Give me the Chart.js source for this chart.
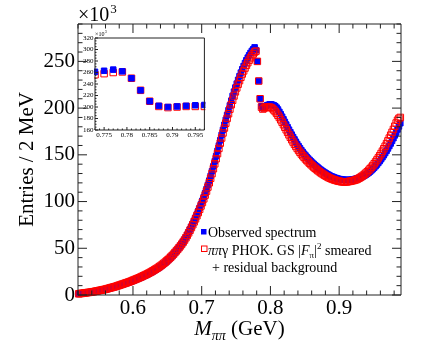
<!DOCTYPE html>
<html>
<head>
<meta charset="utf-8">
<script src="https://cdn.jsdelivr.net/npm/chart.js@4.4.1/dist/chart.umd.min.js"></script>
<style>
  html, body { margin: 0; padding: 0; background: #fff; }
  #wrap { position: relative; width: 436px; height: 347px; }
  #main { position: absolute; left: 0; top: 0; }
  #inset { position: absolute; left: 60px; top: 28px; }
</style>
</head>
<body>
<div id="wrap">
  <canvas id="main" width="436" height="347"></canvas>
  <canvas id="inset" width="150" height="115"></canvas>
</div>
<script>
// bin centres (GeV), 2 MeV bins
const massGeV = [
  0.521, 0.523, 0.525, 0.527, 0.529, 0.531, 0.533, 0.535, 0.537, 0.539,
  0.541, 0.543, 0.545, 0.547, 0.549, 0.551, 0.553, 0.555, 0.557, 0.559,
  0.561, 0.563, 0.565, 0.567, 0.569, 0.571, 0.573, 0.575, 0.577, 0.579,
  0.581, 0.583, 0.585, 0.587, 0.589, 0.591, 0.593, 0.595, 0.597, 0.599,
  0.601, 0.603, 0.605, 0.607, 0.609, 0.611, 0.613, 0.615, 0.617, 0.619,
  0.621, 0.623, 0.625, 0.627, 0.629, 0.631, 0.633, 0.635, 0.637, 0.639,
  0.641, 0.643, 0.645, 0.647, 0.649, 0.651, 0.653, 0.655, 0.657, 0.659,
  0.661, 0.663, 0.665, 0.667, 0.669, 0.671, 0.673, 0.675, 0.677, 0.679,
  0.681, 0.683, 0.685, 0.687, 0.689, 0.691, 0.693, 0.695, 0.697, 0.699,
  0.701, 0.703, 0.705, 0.707, 0.709, 0.711, 0.713, 0.715, 0.717, 0.719,
  0.721, 0.723, 0.725, 0.727, 0.729, 0.731, 0.733, 0.735, 0.737, 0.739,
  0.741, 0.743, 0.745, 0.747, 0.749, 0.751, 0.753, 0.755, 0.757, 0.759,
  0.761, 0.763, 0.765, 0.767, 0.769, 0.771, 0.773, 0.775, 0.777, 0.779,
  0.781, 0.783, 0.785, 0.787, 0.789, 0.791, 0.793, 0.795, 0.797, 0.799,
  0.801, 0.803, 0.805, 0.807, 0.809, 0.811, 0.813, 0.815, 0.817, 0.819,
  0.821, 0.823, 0.825, 0.827, 0.829, 0.831, 0.833, 0.835, 0.837, 0.839,
  0.841, 0.843, 0.845, 0.847, 0.849, 0.851, 0.853, 0.855, 0.857, 0.859,
  0.861, 0.863, 0.865, 0.867, 0.869, 0.871, 0.873, 0.875, 0.877, 0.879,
  0.881, 0.883, 0.885, 0.887, 0.889, 0.891, 0.893, 0.895, 0.897, 0.899,
  0.901, 0.903, 0.905, 0.907, 0.909, 0.911, 0.913, 0.915, 0.917, 0.919,
  0.921, 0.923, 0.925, 0.927, 0.929, 0.931, 0.933, 0.935, 0.937, 0.939,
  0.941, 0.943, 0.945, 0.947, 0.949, 0.951, 0.953, 0.955, 0.957, 0.959,
  0.961, 0.963, 0.965, 0.967, 0.969, 0.971, 0.973, 0.975, 0.977, 0.979,
  0.981, 0.983, 0.985, 0.987, 0.989
];

// entries per bin, x10^3
const observed = [
  1.2, 1.4, 1.6, 1.8, 2.0, 2.2, 2.4, 2.6, 2.8, 3.0,
  3.2, 3.4, 3.7, 4.0, 4.3, 4.6, 4.9, 5.2, 5.5, 5.8,
  6.1, 6.5, 6.9, 7.3, 7.7, 8.1, 8.5, 8.9, 9.4, 9.9,
  10.4, 10.9, 11.4, 11.9, 12.4, 12.9, 13.4, 13.9, 14.4, 15.0,
  15.6, 16.2, 16.8, 17.4, 18.0, 18.6, 19.3, 20.0, 20.7, 21.4,
  22.1, 22.9, 23.7, 24.5, 25.3, 26.2, 27.1, 28.0, 29.0, 30.0,
  31.1, 32.2, 33.4, 34.6, 35.9, 37.3, 38.7, 40.2, 41.8, 43.5,
  45.3, 47.0, 48.8, 50.7, 52.7, 54.8, 57.0, 59.3, 61.8, 64.5,
  67.3, 70.2, 73.2, 76.3, 79.5, 82.8, 86.2, 89.7, 93.3, 97.0,
  100.8, 104.8, 108.9, 113.2, 117.7, 122.4, 127.3, 132.4, 137.7, 143.1,
  148.6, 154.2, 159.9, 165.6, 171.2, 176.7, 182.1, 187.4, 192.6, 197.7,
  202.8, 207.9, 213.0, 217.6, 222.0, 226.2, 230.2, 234.2, 238.0, 241.6,
  245.0, 248.2, 251.2, 254.0, 256.6, 259.0, 261.2, 263.0, 265.0, 262.0,
  250.0, 229.0, 210.0, 202.0, 200.0, 201.0, 202.0, 203.0, 203.5, 204.0,
  204.0, 203.5, 203.0, 202.0, 200.5, 198.5, 196.0, 193.5, 190.8, 188.0,
  185.2, 182.4, 179.6, 176.9, 174.2, 171.6, 169.0, 166.5, 164.0, 161.6,
  159.3, 157.1, 155.0, 153.0, 151.1, 149.3, 147.6, 146.0, 144.5, 143.0,
  141.6, 140.2, 138.9, 137.6, 136.4, 135.2, 134.1, 133.0, 132.0, 131.0,
  130.1, 129.2, 128.4, 127.6, 126.9, 126.3, 125.7, 125.2, 124.7, 124.3,
  124.0, 123.7, 123.5, 123.3, 123.2, 123.1, 123.1, 123.2, 123.3, 123.5,
  123.8, 124.1, 124.5, 124.9, 125.3, 125.8, 126.4, 127.1, 127.9, 128.8,
  129.8, 130.9, 132.1, 133.4, 134.8, 136.3, 137.9, 139.6, 141.4, 143.3,
  145.3, 147.4, 149.6, 151.9, 154.3, 156.8, 159.4, 162.1, 164.9, 167.8,
  170.8, 173.9, 177.1, 180.4, 183.8
];

// PHOKHARA GS model smeared + residual background, x10^3
const phokhara = [
  1.3, 1.5, 1.7, 1.9, 2.1, 2.3, 2.5, 2.7, 2.9, 3.1,
  3.4, 3.6, 3.9, 4.2, 4.5, 4.8, 5.1, 5.4, 5.7, 6.0,
  6.4, 6.8, 7.2, 7.6, 8.0, 8.4, 8.8, 9.2, 9.7, 10.2,
  10.7, 11.2, 11.7, 12.2, 12.7, 13.2, 13.7, 14.2, 14.8, 15.4,
  16.0, 16.6, 17.2, 17.8, 18.4, 19.1, 19.8, 20.5, 21.2, 21.9,
  22.6, 23.4, 24.2, 25.0, 25.9, 26.8, 27.7, 28.6, 29.6, 30.6,
  31.7, 32.8, 34.0, 35.2, 36.5, 37.8, 39.2, 40.6, 42.1, 43.7,
  45.4, 47.1, 48.8, 50.6, 52.5, 54.5, 56.6, 58.8, 61.2, 63.8,
  66.5, 69.3, 72.2, 75.2, 78.3, 81.5, 84.8, 88.2, 91.7, 95.3,
  99.0, 102.9, 106.9, 111.1, 115.5, 120.1, 124.9, 129.9, 135.1, 140.4,
  145.8, 151.3, 156.9, 162.5, 168.0, 173.4, 178.7, 183.9, 189.0, 194.0,
  198.9, 203.7, 208.4, 213.0, 217.4, 221.6, 225.6, 229.4, 233.0, 236.5,
  239.8, 242.9, 245.8, 248.6, 251.3, 253.8, 256.1, 258.0, 260.0, 261.0,
  250.0, 229.0, 210.0, 201.0, 199.0, 200.0, 201.0, 201.0, 201.0, 201.0,
  200.5, 199.5, 198.0, 196.3, 194.4, 192.3, 190.0, 187.5, 184.9, 182.2,
  179.5, 176.8, 174.1, 171.4, 168.8, 166.2, 163.7, 161.3, 159.0, 156.8,
  154.7, 152.7, 150.8, 149.0, 147.3, 145.6, 144.0, 142.5, 141.0, 139.6,
  138.2, 136.9, 135.6, 134.4, 133.2, 132.1, 131.0, 130.0, 129.0, 128.1,
  127.2, 126.4, 125.6, 124.9, 124.3, 123.7, 123.2, 122.7, 122.3, 121.9,
  121.6, 121.3, 121.1, 121.0, 121.0, 121.1, 121.3, 121.6, 121.9, 122.2,
  122.6, 123.0, 123.5, 124.2, 125.0, 125.9, 126.9, 128.0, 129.2, 130.5,
  131.9, 133.4, 135.0, 136.7, 138.5, 140.4, 142.4, 144.5, 146.7, 149.0,
  151.4, 153.9, 156.5, 159.2, 162.0, 164.9, 167.9, 171.0, 174.1, 177.2,
  180.6, 184.0, 187.0, 189.0, 190.0
];

const xTickLabels = [0.6, 0.7, 0.8, 0.9];
const yTickLabels = [0, 50, 100, 150, 200, 250];
const insetXTickLabels = [0.775, 0.78, 0.785, 0.79, 0.795];
const insetYTickLabels = [160, 180, 200, 220, 240, 260, 280, 300, 320];

const SERIF = '"Liberation Serif", "Times New Roman", serif';
const BLUE = '#0000ff';
const RED = '#ff0000';

// list of [value, isMajor] for tick marks, counting in integer steps
function tickList(first, last, step, majorEvery, offset) {
  const out = [];
  const n = Math.round((last - first) / step);
  for (let i = 0; i <= n; i++) {
    const k = Math.round(first / step) + i;
    out.push([k * step, (k - (offset || 0)) % majorEvery === 0]);
  }
  return out;
}

// ROOT style frame with ticks pointing inwards on all four sides
const frameTicks = {
  id: 'frameTicks',
  afterDraw(chart, args, o) {
    const { ctx, chartArea: a, scales: { x, y } } = chart;
    ctx.save();
    ctx.strokeStyle = o.color;
    ctx.lineWidth = 1;
    ctx.beginPath();
    ctx.rect(a.left, a.top, a.right - a.left, a.bottom - a.top);
    o.xTicks.forEach(([v, major]) => {
      const px = x.getPixelForValue(v);
      const len = major ? o.major : o.minor;
      ctx.moveTo(px, a.bottom); ctx.lineTo(px, a.bottom - len);
      if (o.mirror) { ctx.moveTo(px, a.top); ctx.lineTo(px, a.top + len); }
    });
    o.yTicks.forEach(([v, major]) => {
      const py = y.getPixelForValue(v);
      const len = major ? o.major : o.minor;
      ctx.moveTo(a.left, py); ctx.lineTo(a.left + len, py);
      if (o.mirror) { ctx.moveTo(a.right, py); ctx.lineTo(a.right - len, py); }
    });
    ctx.stroke();
    ctx.restore();
  }
};

// x10^3 multiplier above the y axis
const multiplier = {
  id: 'multiplier',
  afterDraw(chart, args, o) {
    const { ctx, chartArea: a } = chart;
    ctx.save();
    ctx.fillStyle = '#000';
    ctx.textBaseline = 'alphabetic';
    ctx.font = o.size + 'px ' + SERIF;
    ctx.fillText('\u00d710', a.left + o.dx, a.top + o.dy);
    const w = ctx.measureText('\u00d710').width;
    ctx.font = Math.round(o.size * 0.65) + 'px ' + SERIF;
    ctx.fillText('3', a.left + o.dx + w + o.size * 0.05, a.top + o.dy - o.size * 0.42);
    ctx.restore();
  }
};

// axis title with italic M and subscript pi pi, plus the legend block
const annotations = {
  id: 'annotations',
  afterDraw(chart) {
    const { ctx, chartArea: a } = chart;
    ctx.save();
    ctx.fillStyle = '#000';
    ctx.textBaseline = 'alphabetic';

    // x axis title
    const parts = [
      { t: 'M', f: 'italic 21px ' + SERIF, dy: 0 },
      { t: '\u03c0\u03c0', f: 'italic 14px ' + SERIF, dy: 5 },
      { t: ' (GeV)', f: '21px ' + SERIF, dy: 0 }
    ];
    let total = 0;
    parts.forEach(p => { ctx.font = p.f; p.w = ctx.measureText(p.t).width; total += p.w; });
    let cx = (a.left + a.right) / 2 - total / 2;
    const base = a.bottom + 39.5;
    parts.forEach(p => { ctx.font = p.f; ctx.fillText(p.t, cx, base + p.dy); cx += p.w; });

    // legend
    const lx = a.left + 123;
    const ly = a.top + 213;
    const gap = 17.5;
    ctx.fillStyle = BLUE;
    ctx.fillRect(lx, ly - 8, 5.5, 5.5);
    ctx.strokeStyle = RED;
    ctx.lineWidth = 1;
    ctx.strokeRect(lx + 0.5, ly + gap - 8.5, 5.5, 5.5);

    ctx.fillStyle = '#000';
    const f14 = '14px ' + SERIF;
    ctx.font = f14;
    ctx.fillText('Observed spectrum', lx + 7, ly);

    const line2 = [
      { t: '\u03c0\u03c0', f: 'italic 14px ' + SERIF, dy: 0 },
      { t: '\u03b3 PHOK. GS |', f: f14, dy: 0 },
      { t: 'F', f: 'italic 14px ' + SERIF, dy: 0 },
      { t: '\u03c0', f: '9px ' + SERIF, dy: 3.5 },
      { t: '|', f: f14, dy: 0 },
      { t: '2', f: '9px ' + SERIF, dy: -5.5 },
      { t: ' smeared', f: f14, dy: 0 }
    ];
    let x2 = lx + 7;
    line2.forEach(p => {
      ctx.font = p.f;
      ctx.fillText(p.t, x2, ly + gap + p.dy);
      x2 += ctx.measureText(p.t).width;
    });
    ctx.font = f14;
    ctx.fillText('+ residual background', lx + 11, ly + 2 * gap);
    ctx.restore();
  }
};

function points(values) {
  return massGeV.map((m, i) => ({ x: m, y: values[i] }));
}

function pointSet(label, values, filled, order, clip) {
  return {
    label: label,
    data: points(values),
    showLine: false,
    order: order,
    clip: clip,
    pointStyle: 'rect',
    pointRadius: filled ? 3.9 : 4.6,
    pointBorderWidth: 1,
    pointBorderColor: filled ? BLUE : RED,
    pointBackgroundColor: filled ? BLUE : 'rgba(0,0,0,0)',
    borderColor: filled ? BLUE : RED,
    backgroundColor: filled ? BLUE : 'rgba(0,0,0,0)'
  };
}

// main histogram
new Chart(document.getElementById('main'), {
  type: 'line',
  data: {
    datasets: [
      pointSet('Observed spectrum', observed, true, 1, false),
      pointSet('\u03c0\u03c0\u03b3 PHOK. GS |F\u03c0|\u00b2 smeared + residual background', phokhara, false, 0, false)
    ]
  },
  options: {
    responsive: false,
    devicePixelRatio: 1,
    animation: false,
    events: [],
    layout: { padding: { left: 0, top: 24, right: 35, bottom: 0 } },
    scales: {
      x: {
        type: 'linear',
        min: 0.52,
        max: 0.99,
        afterFit: s => { s.height = 52; },
        afterBuildTicks: s => { s.ticks = xTickLabels.map(v => ({ value: v })); },
        grid: { display: false, drawTicks: false },
        border: { display: false },
        ticks: {
          color: '#000',
          font: { family: SERIF, size: 21 },
          padding: 1,
          autoSkip: false,
          maxRotation: 0,
          callback: v => String(v)
        }
      },
      y: {
        min: 0,
        max: 290,
        afterFit: s => { s.width = 78; },
        afterBuildTicks: s => { s.ticks = yTickLabels.map(v => ({ value: v })); },
        grid: { display: false, drawTicks: false },
        border: { display: false },
        ticks: {
          color: '#000',
          font: { family: SERIF, size: 21 },
          padding: 3,
          autoSkip: false,
          callback: v => String(v)
        },
        title: {
          display: true,
          text: 'Entries / 2 MeV',
          color: '#000',
          font: { family: SERIF, size: 21 },
          padding: { top: 15, bottom: 0 }
        }
      }
    },
    plugins: {
      legend: { display: false },
      tooltip: { enabled: false },
      frameTicks: {
        color: '#222',
        major: 9,
        minor: 4.5,
        mirror: true,
        xTicks: tickList(0.52, 0.98, 0.02, 5),
        yTicks: tickList(0, 290, 10, 5)
      },
      multiplier: { size: 20, dx: 0, dy: -3 }
    }
  },
  plugins: [frameTicks, multiplier, annotations]
});

// zoom on the rho-omega interference region
new Chart(document.getElementById('inset'), {
  type: 'line',
  data: {
    datasets: [
      pointSet('Observed spectrum', observed, true, 0, 1),
      pointSet('PHOK', phokhara, false, 1, 1)
    ]
  },
  options: {
    responsive: false,
    devicePixelRatio: 1,
    animation: false,
    events: [],
    layout: { padding: { left: 0, top: 10, right: 4, bottom: 0 } },
    scales: {
      x: {
        type: 'linear',
        min: 0.773,
        max: 0.797,
        afterFit: s => { s.height = 13; },
        afterBuildTicks: s => { s.ticks = insetXTickLabels.map(v => ({ value: v })); },
        grid: { display: false, drawTicks: false },
        border: { display: false },
        ticks: {
          color: '#000',
          font: { family: SERIF, size: 7 },
          padding: 1,
          autoSkip: false,
          maxRotation: 0,
          callback: v => String(v)
        }
      },
      y: {
        min: 160,
        max: 320,
        afterFit: s => { s.width = 35; },
        afterBuildTicks: s => { s.ticks = insetYTickLabels.map(v => ({ value: v })); },
        grid: { display: false, drawTicks: false },
        border: { display: false },
        ticks: {
          color: '#000',
          font: { family: SERIF, size: 7 },
          padding: 1.5,
          autoSkip: false,
          callback: v => String(v)
        }
      }
    },
    plugins: {
      legend: { display: false },
      tooltip: { enabled: false },
      frameTicks: {
        color: '#222',
        major: 3,
        minor: 1.5,
        mirror: false,
        xTicks: tickList(0.773, 0.797, 0.001, 5),
        yTicks: tickList(160, 320, 5, 4)
      },
      multiplier: { size: 6, dx: 0, dy: -2 }
    }
  },
  plugins: [frameTicks, multiplier]
});
</script>
</body>
</html>
